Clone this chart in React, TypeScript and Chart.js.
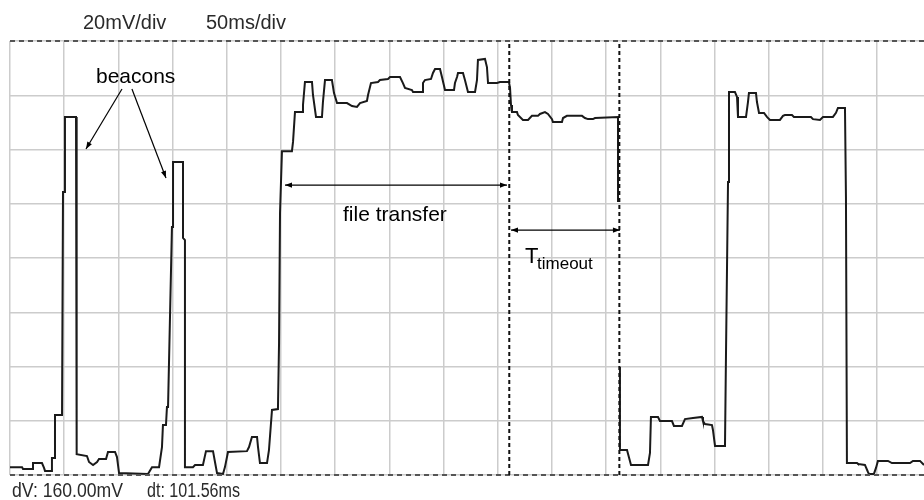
import React, { useEffect, useRef } from "react";
import { Chart, registerables } from "chart.js";

Chart.register(...registerables);

// Scope settings and cursor readouts
const voltsPerDivLabel = "20mV/div";
const timePerDivLabel = "50ms/div";
const dvReadout = "dV: 160.00mV";
const dtReadout = "dt: 101.56ms";

// Screen range: 8 vertical divisions of 20 mV, ~16.9 horizontal divisions of 50 ms
const timeMin = 0;
const timeMax = 843.2;
const timeStep = 50;
const voltMin = 0;
const voltMax = 160;
const voltStep = 20;

// Trace samples (ms, mV above bottom of screen); null = gap in the drawn trace
const timeMs = [
  0, 11.1, 12.0, 20.3, 21.2, 29.5, 31.4, 32.3, 38.7, 38.7, 41.5, 41.5, 48.0, 48.9, 50.7, 50.7, 60.9, 60.9, 61.8, 61.8,
  71.0, 72.9, 76.6, 80.3, 82.1, 88.6, 90.4, 96.9, 98.7, 100.6, 127.3, 131.0, 137.5, 140.2, 141.1, 143.9, 144.8, 145.8, 149.4, 150.4,
  150.4, 159.6, 159.6, 161.4, 161.4, 168.8, 170.7, 178.0, 180.8, 187.3, 189.1, 191.0, 196.5, 198.3, 201.1, 218.6, 220.5, 223.2, 227.9, 228.8,
  230.6, 237.1, 238.9, 241.7, 247.2, 248.2, 249.1, 250.9, 260.1, 261.1, 262.9, 269.4, 270.3, 272.1, 278.6, 279.5, 282.3, 287.8, 288.7, 290.6,
  297.0, 298.9, 301.7, 310.9, 315.5, 320.1, 322.9, 329.3, 330.3, 333.0, 339.5, 341.3, 348.7, 350.6, 359.8, 362.5, 364.4, 370.8, 371.8, 380.1,
  381.0, 382.8, 388.4, 390.2, 392.1, 396.7, 398.5, 401.3, 409.6, 410.5, 412.4, 413.3, 417.9, 419.7, 422.5, 429.0, 430.8, 431.7, 438.2, 440.0,
  441.0, 449.3, 452.0, 460.3, 461.3, 462.2, 463.1, 467.7, 468.6, 473.2, 477.9, 481.5, 487.1, 488.9, 493.5, 496.3, 500.0, 500.9, 509.2, 510.2,
  513.8, 527.7, 530.4, 533.2, 537.8, 539.7, 560.9, 560.9, 561.8, 562.7, 562.7, 569.2, 572.9, 588.6, 590.4, 591.3, 597.8, 599.6, 610.7, 612.5,
  619.9, 622.7, 630.1, 638.4, 639.3, 641.1, 647.6, 648.5, 650.4, 659.6, 660.5, 662.4, 663.3, 668.8, 670.7, 671.6, 679.0, 680.8, 681.7, 688.2,
  689.1, 691.0, 695.6, 698.3, 701.1, 710.3, 713.1, 714.9, 721.4, 723.2, 738.9, 740.8, 747.2, 750.0, 759.2, 762.0, 763.8, 770.3, 771.2, 772.1,
  781.4, 782.3, 788.7, 791.5, 792.4, 797.0, 798.9, 800.7, 810.0, 813.6, 830.3, 833.0, 839.5, 843.2, 846.0,
];
const voltageMv: (number | null)[] = [
  2.9, 2.9, 2.2, 2.2, 4.4, 4.4, 2.6, 1.5, 1.5, 6.3, 6.3, 22.1, 22.1, 104.3, 104.3, 132.0, 132.0, 100.6, 100.6, 7.7,
  7.0, 4.8, 3.7, 4.8, 5.9, 5.9, 8.5, 8.5, 6.6, 0.7, 0.4, 2.9, 2.9, 10.3, 18.4, 18.4, 25.1, 25.1, 91.4, 91.4,
  115.4, 115.4, 87.4, 86.6, 2.9, 2.9, 3.7, 3.7, 8.8, 8.8, 4.8, 0.7, 0.4, 2.9, 8.5, 8.8, 10.3, 14.0, 14.0, 10.3,
  4.4, 4.4, 9.2, 24.0, 24.3, 48.7, 96.6, 119.4, 119.4, 122.8, 133.8, 133.8, 136.4, 144.9, 144.9, 140.1, 132.0, 132.0, 137.5, 145.6,
  145.6, 140.8, 137.1, 137.1, 136.0, 135.7, 137.1, 137.9, 140.1, 144.5, 144.9, 145.6, 146.0, 146.7, 146.7, 144.5, 142.7, 141.9, 141.2, 141.2,
  144.5, 145.6, 146.0, 148.2, 149.7, 149.7, 146.7, 141.9, 141.9, 144.5, 146.7, 148.2, 148.2, 145.6, 141.2, 141.2, 145.6, 153.0, 153.4, 150.4,
  144.5, 144.5, 144.9, 144.9, 142.7, 136.4, 133.8, 133.8, 132.7, 130.9, 130.9, 132.4, 132.4, 133.1, 133.8, 133.1, 131.2, 130.1, 130.1, 131.6,
  132.4, 132.4, 131.6, 131.2, 131.2, 131.6, 132.0, 100.6, null, 39.8, 9.2, 9.2, 3.7, 3.7, 8.1, 21.4, 21.4, 19.9, 19.9, 18.1,
  18.1, 20.6, 21.0, 21.4, 19.9, 18.8, 18.4, 16.6, 10.7, 10.7, 43.5, 108.0, 141.2, 141.2, 139.4, 132.0, 132.0, 137.5, 140.8, 140.8,
  137.5, 133.5, 133.5, 132.0, 130.9, 130.9, 132.4, 132.7, 132.7, 132.0, 132.0, 131.2, 130.9, 132.0, 132.0, 133.5, 135.3, 135.3, 102.5, 4.4,
  4.4, 4.1, 3.7, 1.1, 0.4, 0.4, 2.6, 5.2, 5.2, 4.4, 4.4, 5.2, 5.2, 3.7, 3.3,
];

// Cursors
const cursorTimesMs = [460.6, 562.16];
const cursorLevelsMv = [0, 160];

// Annotation labels (anchored at left/baseline, in data units)
const labelTexts = ["beacons", "file transfer"];
const labelTimes = [79.3, 307.2];
const labelLevels = [144.5, 93.6];
const timeoutMain = "T";
const timeoutSub = "timeout";
const timeoutTimes = [475.1, 486.2];
const timeoutLevels = [78.2, 75.9];

// Arrows: from (t, v) to (t, v); double = head on both ends
const arrowFromT = [103.3, 112.5, 253.7, 462.2];
const arrowFromV = [142.3, 142.3, 106.9, 90.3];
const arrowToT = [70.1, 143.9, 458.5, 562.7];
const arrowToV = [120.2, 109.5, 106.9, 90.3];
const arrowDouble = [false, false, true, true];

const FONT = "'Liberation Sans', Arial, Helvetica, sans-serif";

function head(ctx: CanvasRenderingContext2D, fx: number, fy: number, tx: number, ty: number) {
  const a = Math.atan2(ty - fy, tx - fx);
  const len = 7;
  const hw = 2.6;
  ctx.beginPath();
  ctx.moveTo(tx, ty);
  ctx.lineTo(tx - len * Math.cos(a) + hw * Math.sin(a), ty - len * Math.sin(a) - hw * Math.cos(a));
  ctx.lineTo(tx - len * Math.cos(a) - hw * Math.sin(a), ty - len * Math.sin(a) + hw * Math.cos(a));
  ctx.closePath();
  ctx.fill();
}

const annotationPlugin = {
  id: "scopeAnnotations",
  afterDatasetsDraw(chart: any) {
    const { ctx, chartArea } = chart;
    const xs = chart.scales.x;
    const ys = chart.scales.y;
    ctx.save();
    ctx.fillStyle = "#000";
    ctx.strokeStyle = "#000";
    ctx.textAlign = "left";
    ctx.textBaseline = "alphabetic";

    ctx.font = `21px ${FONT}`;
    labelTexts.forEach((t, i) => {
      ctx.fillText(t, xs.getPixelForValue(labelTimes[i]), ys.getPixelForValue(labelLevels[i]));
    });
    ctx.font = `22px ${FONT}`;
    ctx.fillText(timeoutMain, xs.getPixelForValue(timeoutTimes[0]), ys.getPixelForValue(timeoutLevels[0]));
    ctx.font = `17px ${FONT}`;
    ctx.fillText(timeoutSub, xs.getPixelForValue(timeoutTimes[1]), ys.getPixelForValue(timeoutLevels[1]));

    ctx.lineWidth = 1.2;
    for (let i = 0; i < arrowFromT.length; i++) {
      const x1 = xs.getPixelForValue(arrowFromT[i]);
      const y1 = ys.getPixelForValue(arrowFromV[i]);
      const x2 = xs.getPixelForValue(arrowToT[i]);
      const y2 = ys.getPixelForValue(arrowToV[i]);
      ctx.beginPath();
      ctx.moveTo(x1, y1);
      ctx.lineTo(x2, y2);
      ctx.stroke();
      head(ctx, x1, y1, x2, y2);
      if (arrowDouble[i]) head(ctx, x2, y2, x1, y1);
    }

    // Scope header / cursor readouts
    ctx.fillStyle = "#2a2a2a";
    ctx.font = `20px ${FONT}`;
    ctx.fillText(voltsPerDivLabel, chartArea.left + 73, chartArea.top - 12, 90);
    ctx.fillText(timePerDivLabel, chartArea.left + 196, chartArea.top - 12, 87);
    ctx.fillText(dvReadout, chartArea.left + 2, chartArea.bottom + 22, 111);
    ctx.fillText(dtReadout, chartArea.left + 137, chartArea.bottom + 22, 93);
    ctx.restore();
  },
};

export default function App() {
  const canvasRef = useRef<HTMLCanvasElement | null>(null);

  useEffect(() => {
    const canvas = canvasRef.current;
    if (!canvas) return;
    const trace = timeMs.map((t, i) => ({ x: t, y: voltageMv[i] }));
    const vCursors = cursorTimesMs.map((t) => ({
      type: "line" as const,
      data: [
        { x: t, y: voltMin },
        { x: t, y: voltMax },
      ],
      borderColor: "#111",
      borderWidth: 2,
      borderDash: [4, 3],
      pointRadius: 0,
      clip: 4,
      order: 0,
    }));
    const hCursors = cursorLevelsMv.map((v) => ({
      type: "line" as const,
      data: [
        { x: timeMin, y: v },
        { x: timeMax, y: v },
      ],
      borderColor: "#555",
      borderWidth: 1.8,
      borderDash: [5, 4],
      pointRadius: 0,
      clip: 4,
      order: 0,
    }));

    const chart = new Chart(canvas, {
      type: "line",
      data: {
        datasets: [
          {
            data: trace as any,
            borderColor: "#1a1a1a",
            borderWidth: 2,
            pointRadius: 0,
            tension: 0,
            spanGaps: false,
            borderJoinStyle: "miter",
            order: 1,
          },
          ...vCursors,
          ...hCursors,
        ] as any,
      },
      options: {
        animation: false,
        responsive: false,
        events: [],
        layout: { padding: { left: 10, top: 41, right: 0, bottom: 25 } },
        plugins: { legend: { display: false }, tooltip: { enabled: false } },
        scales: {
          x: {
            type: "linear",
            min: timeMin,
            max: timeMax,
            ticks: { display: false, stepSize: timeStep, includeBounds: false },
            grid: { color: "#cccccc", lineWidth: 1.5, drawTicks: false },
            border: { display: false },
          },
          y: {
            type: "linear",
            min: voltMin,
            max: voltMax,
            ticks: { display: false, stepSize: voltStep },
            grid: { color: "#cccccc", lineWidth: 1.5, drawTicks: false },
            border: { display: false },
          },
        },
      },
      plugins: [annotationPlugin],
    });
    return () => chart.destroy();
  }, []);

  return (
    <div style={{ position: "fixed", left: 0, top: 0, width: 924, height: 500, background: "#fff" }}>
      <canvas ref={canvasRef} width={924} height={500} style={{ display: "block" }} />
    </div>
  );
}
